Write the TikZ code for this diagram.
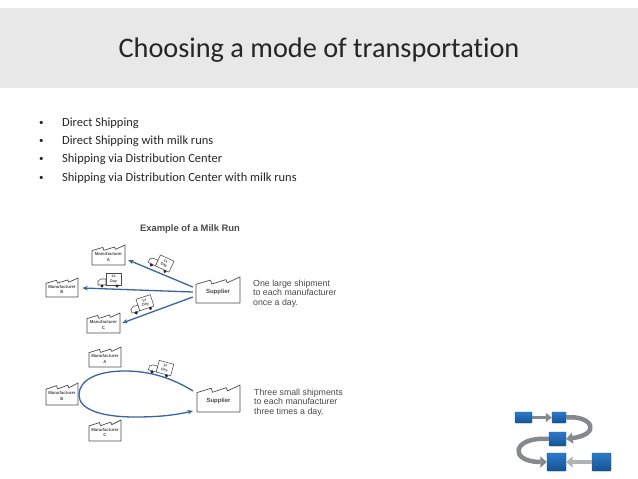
\documentclass[tikz,border=0pt]{standalone}
\usepackage{fontspec}
\setmainfont[Ligatures=NoCommon]{Carlito}
\newfontfamily\figfont{Liberation Sans}
\usetikzlibrary{arrows.meta,calc}
\definecolor{band}{HTML}{E8E8E8}
\definecolor{ink}{HTML}{262626}
\definecolor{route}{HTML}{3A659F}
\definecolor{figink}{HTML}{4A4A4A}
\definecolor{tile}{HTML}{2A7BCB}
\definecolor{tiledark}{HTML}{17528F}
\definecolor{swoosh}{HTML}{85888D}
\tikzset{
  x=1pt,y=-1pt,
  titletext/.style={font=\fontsize{28.3}{30}\selectfont,text=ink,inner sep=0},
  bullettext/.style={font=\fontsize{12.45}{14}\selectfont,text=ink,anchor=west,inner sep=0},
  bulletmark/.style={font=\fontsize{9}{14}\selectfont,text=ink,anchor=west,inner sep=0},
  figtext/.style={font=\figfont\fontsize{8.8}{9.5}\selectfont,text=figink,align=left,anchor=west,inner sep=0},
  figtitle/.style={font=\figfont\bfseries\fontsize{9.4}{10}\selectfont,text=figink,inner sep=0},
  factorytext/.style={font=\figfont\bfseries\fontsize{4.3}{5.6}\selectfont,text=figink,align=center,inner sep=0},
  factoryline/.style={draw=figink,line width=.7pt,fill=white,line join=round},
  routeline/.style={draw=route,line width=1.3pt,-{Stealth[length=5.5pt,width=4.5pt]}},
  tilebox/.style={top color=tile,bottom color=tiledark,draw=tiledark,line width=.4pt,rounded corners=.6pt,inner sep=0},
  swooshline/.style={draw=swoosh,line width=4.5pt,-{Triangle[length=6.5pt,width=11pt]}},
  truckline/.style={draw=figink,line width=.55pt,fill=white,line join=round},
  wheel/.style={fill=black!85},
  trucktext/.style={font=\figfont\bfseries\fontsize{3.8}{4.2}\selectfont,text=figink,align=center,inner sep=0}
}
% name, left, top, right, bottom, label
\newcommand{\factory}[6]{%
  \path[factoryline] (#2,#5) -- (#2,{#3+(#5-#3)*.28})
    -- ({#2+(#4-#2)*.33},{#3+(#5-#3)*.12}) -- ({#2+(#4-#2)*.36},{#3+(#5-#3)*.27})
    -- ({#2+(#4-#2)*.68},{#3+(#5-#3)*.1}) -- ({#2+(#4-#2)*.71},{#3+(#5-#3)*.22})
    -- (#4,#3) -- (#4,#5) -- cycle;
  \node[factorytext,minimum width={(#4-#2)*1pt},minimum height={(#5-#3)*1pt},anchor=center] (#1) at ({(#2+#4)/2},{(#3+#5)/2+2}) {#6};
}
% name, x, y, rotation
\newcommand{\truck}[4]{%
  \begin{scope}[shift={(#2,#3)},rotate=#4]
    \path[truckline] (-4,-12) rectangle (11,0);
    \path[truckline] (-4,0) -- (-12,0) -- (-12,-4) -- (-9,-6) -- (-4,-6) -- cycle;
    \fill[wheel] (-8,1) circle (1.7);
    \fill[wheel] (7,1) circle (1.7);
    \node[trucktext,rotate=#4] (#1) at (3.5,-6) {1x\\Day};
  \end{scope}}
\begin{document}
\begin{tikzpicture}
\useasboundingbox (0,0) rectangle (638,479);
\fill[white] (0,0) rectangle (638,479);
\fill[band] (0,8) rectangle (638,88);
\node[titletext] (title) at (319,50.5) {Choosing a mode of transportation};
\foreach \yy/\tt [count=\i] in {123/Direct Shipping,141/Direct Shipping with milk runs,159.5/Shipping via Distribution Center,178/Shipping via Distribution Center with milk runs}{
  \node[bulletmark] (bul\i) at (39,\yy) {•};
  \node[bullettext] (item\i) at (62,\yy) {\tt};
}
\node[figtitle] (figtitle) at (190,229.5) {Example of a Milk Run};
% upper
\factory{ma}{92}{245}{125}{265}{Manufacturer\\A}
\factory{mb}{46}{278}{78}{297}{Manufacturer\\B}
\factory{mc}{87}{313}{120}{333}{Manufacturer\\C}
\factory{su}{196}{277}{240}{303}{\fontsize{6}{7}\selectfont Supplier}
\draw[routeline] ($(su.west)+(-3,-5)$) -- ($(ma.east)+(3,3)$);
\draw[routeline] ($(su.west)+(-3,0)$) -- ($(mb.east)+(4,-1.5)$);
\draw[routeline] ($(su.west)+(-3,5)$) -- ($(mc.east)+(2,-2)$);
\truck{ta}{159}{267.5}{-25}
\truck{tb}{110}{285}{0}
\truck{tc}{143.5}{309.5}{18}
\node[figtext] (t1) at (253,293.5) {One large shipment\\to each manufacturer\\once a day.};
% lower
\factory{la}{89}{347}{121}{367}{Manufacturer\\A}
\factory{lb}{46}{383}{78}{405}{Manufacturer\\B}
\factory{lc}{89}{420}{121}{441}{Manufacturer\\C}
\factory{ls}{197}{385}{240}{412}{\fontsize{6}{7}\selectfont Supplier}
\coordinate (loopstart) at (193,391);
\coordinate (loopend) at (193,411);
\draw[routeline] (loopstart) .. controls (172,378) and (150,371) .. (125,371)
  .. controls (95,371) and (79,381) .. (79,395)
  .. controls (79,409) and (100,417) .. (135,417)
  .. controls (160,417) and (175,415) .. (loopend);
\truck{td}{160}{373}{-15}
\node[figtext] (t2) at (254,402.5) {Three small shipments\\to each manufacturer\\three times a day.};
% logo
\node[tilebox,minimum width=17pt,minimum height=11pt] (s1) at (523.5,417.5) {};
\node[tilebox,minimum width=14pt,minimum height=11pt] (s2) at (559,417.5) {};
\node[tilebox,minimum width=17pt,minimum height=14pt] (s3) at (557.5,439) {};
\node[tilebox,minimum width=19pt,minimum height=18pt] (s4) at (556.5,462) {};
\node[tilebox,minimum width=19pt,minimum height=18pt] (s5) at (601.5,462) {};
\draw[swooshline,line width=3.5pt,-{Triangle[length=6pt,width=9pt]}] (s1) -- (s2);
\draw[swooshline] (s2.east) .. controls (592,415) and (602,434) .. (s3.east);
\draw[swooshline] (s3.west) .. controls (512,436) and (508,462) .. (s4.west);
\draw[swooshline,draw=swoosh!65] (s5) -- (s4);
\end{tikzpicture}
\end{document}
